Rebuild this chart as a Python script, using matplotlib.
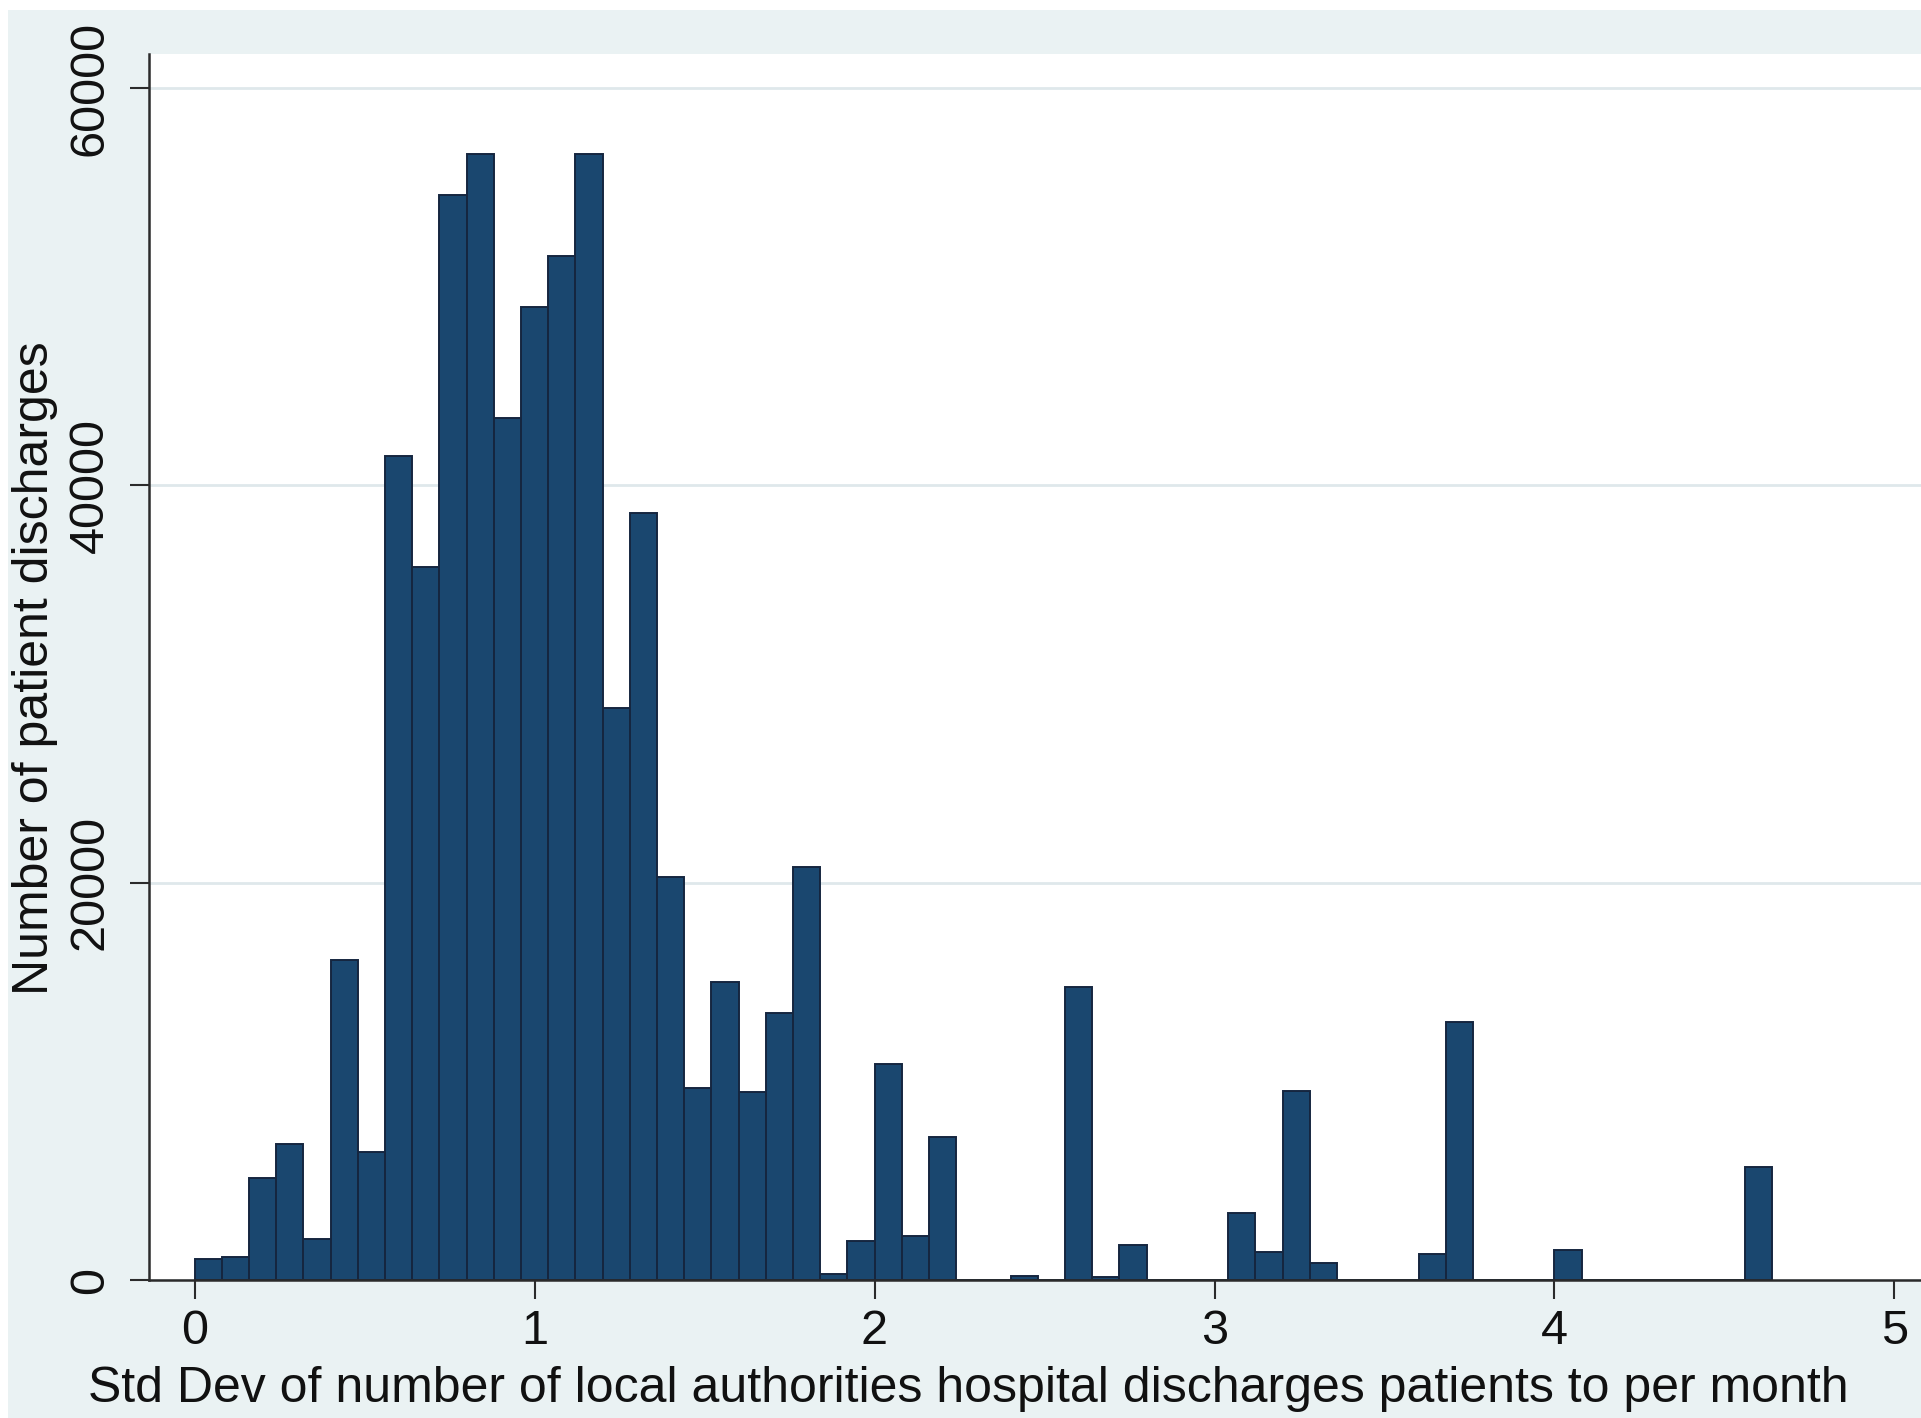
import numpy as np
import matplotlib
matplotlib.use("Agg")
import matplotlib.pyplot as plt
from matplotlib.patches import Rectangle

# histogram bins (width 0.08, starting at 0) and counts
bin_width = 0.08
bin_start = 0.0
counts = [
    1050, 1150, 5150, 6850, 2050, 16100, 6450, 41500, 35900, 54600,
    56700, 43400, 49000, 51550, 56700, 28800, 38600, 20300, 9650, 15000,
    9450, 13450, 20800, 300, 1950, 10850, 2200, 7200, 0, 0,
    200, 0, 14750, 150, 1750, 0, 0, 0, 3350, 1400,
    9500, 850, 0, 0, 0, 1300, 13000, 0, 0, 0,
    1500, 0, 0, 0, 0, 0, 0, 5700,
]
x_ticks = [0, 1, 2, 3, 4, 5]
y_ticks = [0, 20000, 40000, 60000]
x_title = "Std Dev of number of local authorities hospital discharges patients to per month"
y_title = "Number of patient discharges"

plt.rcParams['font.family'] = ['Liberation Sans', 'DejaVu Sans']

W, H = 1921, 1418
fig = plt.figure(figsize=(W / 100, H / 100), dpi=100)
fig.patch.set_facecolor('white')

# stata-like graph region
fig.patches.append(Rectangle((8 / W, 0), 1, 1 - 10 / H, transform=fig.transFigure,
                             facecolor='#eaf2f3', edgecolor='none', zorder=-10))

ax = fig.add_axes([149 / W, (H - 1280) / H, 1 - 149 / W, (1280 - 54) / H])
ax.set_facecolor('white')

edges = bin_start + bin_width * np.arange(len(counts))
ax.bar(edges, counts, width=bin_width, align='edge', color='#1a476f',
       edgecolor='#15263f', linewidth=1.4, zorder=3)

ax.set_xlim(-0.134, 5.078)
ax.set_ylim(0, 61710)
ax.set_xticks(x_ticks)
ax.set_yticks(y_ticks)
ax.set_yticklabels([str(v) for v in y_ticks], rotation=90, va='center')

ax.grid(axis='y', color='#dfe8eb', linewidth=2.0, zorder=0)
ax.set_axisbelow(True)

for s in ['top', 'right']:
    ax.spines[s].set_visible(False)
for s in ['left', 'bottom']:
    ax.spines[s].set_color('#2b2b2b')
    ax.spines[s].set_linewidth(1.8)
    ax.spines[s].set_zorder(4)

ax.tick_params(axis='both', length=14, width=1.5, color='#2b2b2b', labelsize=35,
               labelcolor='#111111')
ax.tick_params(axis='x', pad=7)
ax.tick_params(axis='y', pad=12)

fig.text(968 / W, (H - 1402) / H, x_title, ha='center', va='baseline',
         fontsize=36, color='#111111')
fig.text(35 / W, (H - 668) / H, y_title, ha='center', va='center', rotation=90,
         fontsize=36, color='#111111')

fig.savefig('out.png', dpi=100)
